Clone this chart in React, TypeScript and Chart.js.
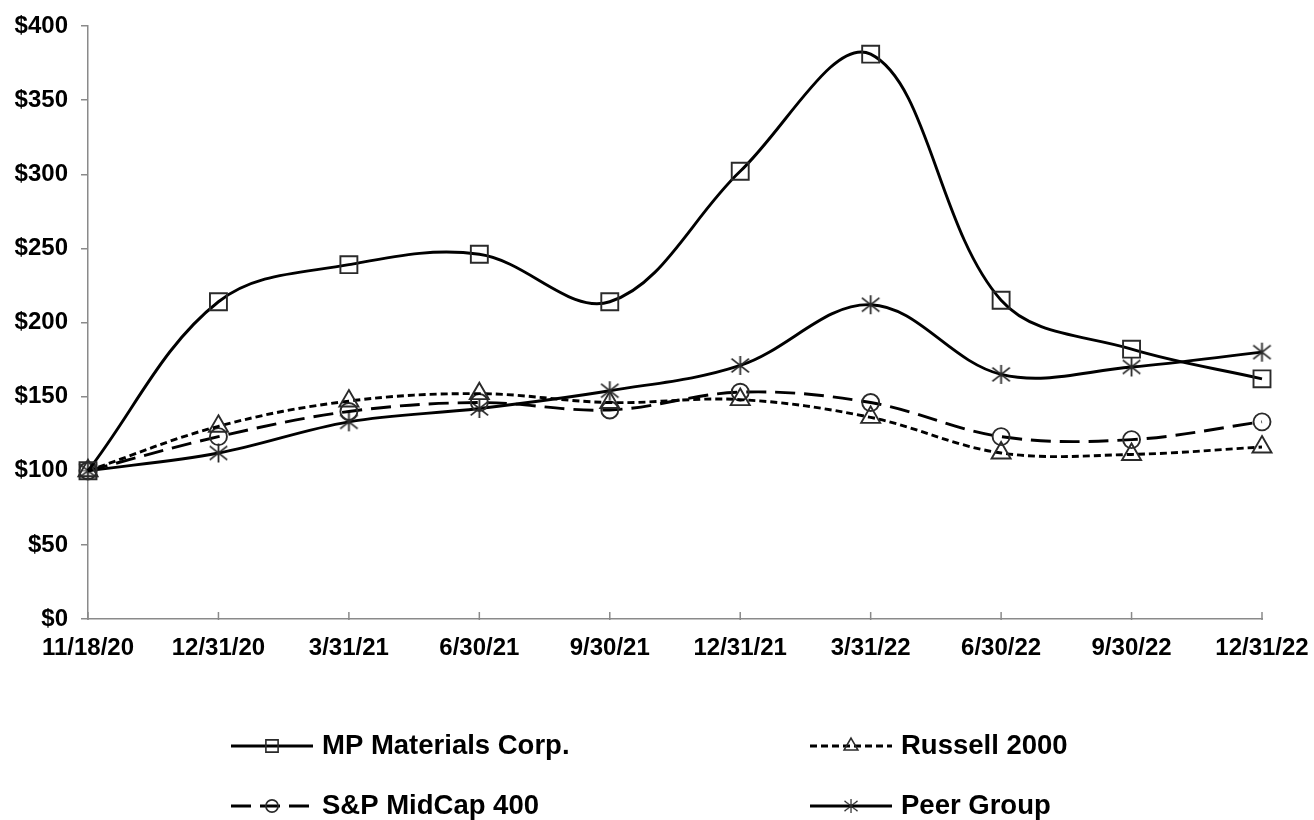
import React, { useEffect, useRef } from "react";
import { Chart, registerables } from "chart.js";
import { drawPoint } from "chart.js/helpers";

Chart.register(...registerables);

// ---------- data ----------
const dates = ["11/18/20", "12/31/20", "3/31/21", "6/30/21", "9/30/21", "12/31/21", "3/31/22", "6/30/22", "9/30/22", "12/31/22"];
const mpMaterials = [100, 214, 239, 246, 214, 302, 381, 215, 182, 162];
const russell2000 = [100, 130, 147, 152, 146, 148, 136, 112, 111, 116];
const spMidCap400 = [100, 123, 140, 146, 141, 153, 146, 123, 121, 133];
const peerGroup = [100, 112, 133, 142, 154, 171, 212, 165, 170, 180];
const seriesNames = ["MP Materials Corp.", "Russell 2000", "S&P MidCap 400", "Peer Group"];
const yMin = 0;
const yMax = 400;
const yStep = 50;

// ---------- styles ----------
const FONT = "'Liberation Sans', Arial, Helvetica, sans-serif";
const AXIS = "#8a8a8a";
const LINE = "#000000";
const MARK = "#2a2a2a";

function makeAsterisk(size: number, lw: number): HTMLCanvasElement {
  const c = document.createElement("canvas");
  c.width = size;
  c.height = size;
  const ctx = c.getContext("2d")!;
  ctx.strokeStyle = MARK;
  ctx.lineWidth = lw;
  const m = size / 2;
  const r = size / 2 - 1;
  ctx.beginPath();
  ctx.moveTo(m, m - r);
  ctx.lineTo(m, m + r);
  const dx = r * 0.92;
  const dy = r * 0.72;
  ctx.moveTo(m - dx, m - dy);
  ctx.lineTo(m + dx, m + dy);
  ctx.moveTo(m - dx, m + dy);
  ctx.lineTo(m + dx, m - dy);
  ctx.stroke();
  return c;
}

const innerXTicks = {
  id: "innerXTicks",
  beforeDatasetsDraw(chart: any) {
    const xs = chart.scales.x;
    const ctx = chart.ctx;
    ctx.save();
    ctx.strokeStyle = AXIS;
    ctx.lineWidth = 1.5;
    xs.ticks.forEach((_: any, i: number) => {
      const x = xs.getPixelForTick(i);
      ctx.beginPath();
      ctx.moveTo(x, xs.top + 1);
      ctx.lineTo(x, xs.top - 7);
      ctx.stroke();
    });
    ctx.restore();
  },
};

const customLegend = {
  id: "customLegend",
  afterDraw(chart: any) {
    const ctx = chart.ctx;
    const cols = [231, 810];
    const rows = [746, 806];
    const sampleLen = 82;
    chart.data.datasets.forEach((ds: any, i: number) => {
      const x0 = cols[i % 2];
      const y = rows[Math.floor(i / 2)];
      ctx.save();
      ctx.strokeStyle = ds.borderColor;
      ctx.lineWidth = ds.borderWidth;
      ctx.setLineDash(ds.borderDash || []);
      ctx.beginPath();
      ctx.moveTo(x0, y);
      ctx.lineTo(x0 + sampleLen, y);
      ctx.stroke();
      ctx.setLineDash([]);
      ctx.strokeStyle = MARK;
      ctx.fillStyle = "rgba(0,0,0,0)";
      ctx.lineWidth = 1.6;
      const ps = ds.pointStyle;
      if (typeof ps === "string") {
        drawPoint(ctx, { pointStyle: ps, radius: ds.pointRadius * 0.72, borderWidth: 1.6, rotation: 0 } as any, x0 + sampleLen / 2, y);
      } else {
        const s = ps.width * 0.75;
        ctx.drawImage(ps, x0 + sampleLen / 2 - s / 2, y - s / 2, s, s);
      }
      ctx.fillStyle = "#000";
      ctx.font = `bold 27.5px ${FONT}`;
      ctx.textBaseline = "middle";
      ctx.textAlign = "left";
      ctx.fillText(ds.label, x0 + sampleLen + 9, y);
      ctx.restore();
    });
  },
};

export default function App() {
  const ref = useRef<HTMLCanvasElement | null>(null);

  useEffect(() => {
    if (!ref.current) return;
    const star = makeAsterisk(21, 1.8);
    const common = {
      fill: false,
      borderColor: LINE,
      borderWidth: 2.9,
      tension: 0.36,
      pointBorderColor: MARK,
      pointBackgroundColor: "rgba(0,0,0,0)",
      pointBorderWidth: 1.9,
      clip: false as any,
    };
    const chart = new Chart(ref.current, {
      type: "line",
      data: {
        labels: dates,
        datasets: [
          { ...common, label: seriesNames[0], data: mpMaterials, pointStyle: "rect", pointRadius: 12, borderDash: [] },
          { ...common, label: seriesNames[1], data: russell2000, pointStyle: "triangle", pointRadius: 11, borderDash: [7, 4] },
          { ...common, label: seriesNames[2], data: spMidCap400, pointStyle: "circle", pointRadius: 8.5, borderDash: [20, 9] },
          { ...common, label: seriesNames[3], data: peerGroup, pointStyle: star as any, pointRadius: 10, borderDash: [] },
        ],
      },
      options: {
        animation: false,
        responsive: true,
        maintainAspectRatio: false,
        layout: { padding: { top: 26, right: 52, left: 0, bottom: 0 } },
        plugins: {
          legend: { display: false },
          tooltip: { enabled: false },
          title: { display: false },
        },
        scales: {
          x: {
            offset: false,
            grid: { drawOnChartArea: false, drawTicks: false },
            border: { display: true, color: AXIS, width: 1.5 },
            ticks: {
              autoSkip: false,
              maxRotation: 0,
              padding: 15,
              color: "#000",
              font: { family: FONT, size: 24, weight: "bold" },
            },
            afterFit: (s: any) => {
              s.height = 201;
              s.paddingLeft = 0;
              s.paddingRight = 0;
            },
          },
          y: {
            min: yMin,
            max: yMax,
            grid: { drawOnChartArea: false, drawTicks: true, tickLength: 7, color: AXIS, lineWidth: 1.5 },
            border: { display: true, color: AXIS, width: 1.5 },
            ticks: {
              stepSize: yStep,
              padding: 13,
              color: "#000",
              font: { family: FONT, size: 24, weight: "bold" },
              callback: (v: any) => "$" + v,
            },
            afterFit: (s: any) => {
              s.width = 88;
              s.paddingTop = 0;
              s.paddingBottom = 0;
            },
          },
        },
      },
      plugins: [innerXTicks, customLegend],
    });
    return () => chart.destroy();
  }, []);

  return (
    <div style={{ position: "absolute", left: 0, top: 0, width: 1314, height: 820, background: "#fff" }}>
      <canvas ref={ref} />
    </div>
  );
}
